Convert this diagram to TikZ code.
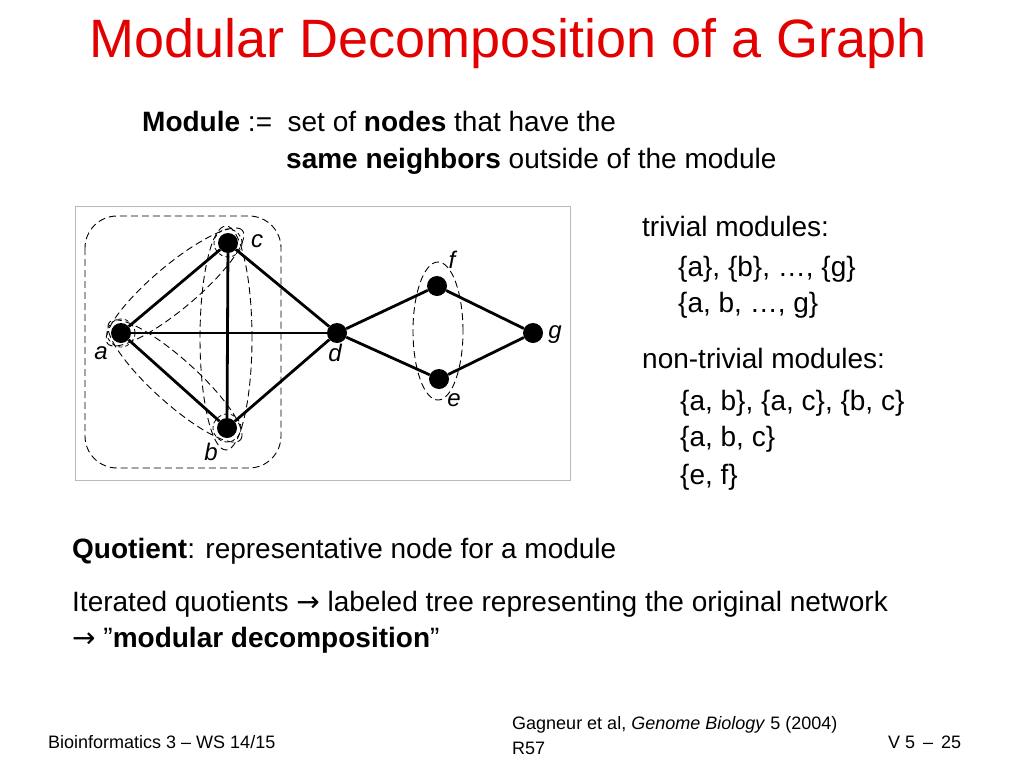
\documentclass[tikz,border=0pt]{standalone}
\usepackage{fontspec}
\setmainfont{Liberation Sans}
\newfontfamily\arrowfont{DejaVu Sans}
\newcommand{\myarrow}{{\arrowfont →}}
\definecolor{titlered}{RGB}{226,0,0}
\definecolor{boxgray}{RGB}{185,185,185}
\begin{document}
\begin{tikzpicture}[x=1pt,y=1pt,
  vert/.style={circle,fill=black,inner sep=0pt,minimum size=20pt},
  edge/.style={line width=2.8pt},
  dsh/.style={dash pattern=on 7pt off 4pt,line width=0.9pt},
  sdsh/.style={dash pattern=on 4pt off 3pt,line width=0.8pt},
  lbl/.style={font=\fontsize{24}{24}\selectfont\itshape,inner sep=0pt},
  txt/.style={anchor=base west,inner sep=0pt,font=\fontsize{28}{28}\selectfont},
  foot/.style={anchor=base west,inner sep=0pt,font=\fontsize{18}{18}\selectfont}]
\useasboundingbox (0,0) rectangle (1024,-768);
% title
\node[anchor=base,inner sep=0pt,text=titlered,font=\fontsize{54}{54}\selectfont] (title) at (508,-57) {Modular Decomposition of a Graph};
\node[txt] (mod1) at (142,-131) {\textbf{Module} :=\ \ set of \textbf{nodes} that have the};
\node[txt] (mod2) at (286,-168) {\textbf{same neighbors} outside of the module};
% graph box
\draw[boxgray,line width=1pt,fill=white] (75,-206) rectangle (570,-480);
% dashed modules
\draw[dsh,rounded corners=32pt] (85,-216) rectangle (281,-468);
\draw[dsh] (226,-338) ellipse [x radius=26, y radius=112];
\draw[dsh] (175,-287) ellipse [x radius=88, y radius=22, rotate=40];
\draw[dsh] (175,-381) ellipse [x radius=88, y radius=22, rotate=-42];
\draw[dsh] (438,-331) ellipse [x radius=25, y radius=69];
% vertices
\node[vert] (a) at (121,-333) {};
\node[vert] (c) at (228,-243) {};
\node[vert] (b) at (227,-428) {};
\node[vert] (d) at (337,-333) {};
\node[vert] (f) at (437,-286) {};
\node[vert] (e) at (439,-379) {};
\node[vert] (g) at (533,-333) {};
\draw[sdsh] (a) circle[radius=14];
\draw[sdsh] (b) circle[radius=14];
\draw[sdsh] (c) circle[radius=14];
% edges
\draw[edge] (a) -- (c);
\draw[edge] (a) -- (b);
\draw[edge] (a) -- (d);
\draw[edge] (c) -- (b);
\draw[edge] (c) -- (d);
\draw[edge] (b) -- (d);
\draw[edge] (d) -- (f);
\draw[edge] (d) -- (e);
\draw[edge] (f) -- (g);
\draw[edge] (e) -- (g);
% labels
\node[lbl] (la) at (101,-353) {a};
\node[lbl] (lb) at (211,-452) {b};
\node[lbl] (lc) at (257,-241) {c};
\node[lbl] (ld) at (335,-353) {d};
\node[lbl] (lf) at (452,-260) {f};
\node[lbl] (le) at (454,-400) {e};
\node[lbl] (lg) at (555,-335) {g};
% right text
\node[txt] (t1) at (642,-236) {trivial modules:};
\node[txt] (t2) at (678,-276) {\{a\}, \{b\}, \dots, \{g\}};
\node[txt] (t3) at (678,-312) {\{a, b, \dots, g\}};
\node[txt] (t4) at (642,-368) {non-trivial modules:};
\node[txt] (t5) at (680,-410) {\{a, b\}, \{a, c\}, \{b, c\}};
\node[txt] (t6) at (680,-446) {\{a, b, c\}};
\node[txt] (t7) at (680,-484) {\{e, f\}};
% bottom text
\node[txt] (q1) at (72,-558) {\textbf{Quotient}: representative node for a module};
\node[txt] (q2) at (72,-611) {Iterated quotients \myarrow\ labeled tree representing the original network};
\node[txt] (q3) at (72,-647) {\myarrow\ \symbol{34}\textbf{modular decomposition}\symbol{34}};
% footer
\node[foot] (f1) at (48,-748) {Bioinformatics 3 – WS 14/15};
\node[foot] (f2) at (512,-729) {Gagneur et al, \textit{Genome Biology} 5 (2004)};
\node[foot] (f3) at (512,-754) {R57};
\node[foot] (f4) at (888,-748) {V 5 \,–\,\ 25};
\end{tikzpicture}
\end{document}
